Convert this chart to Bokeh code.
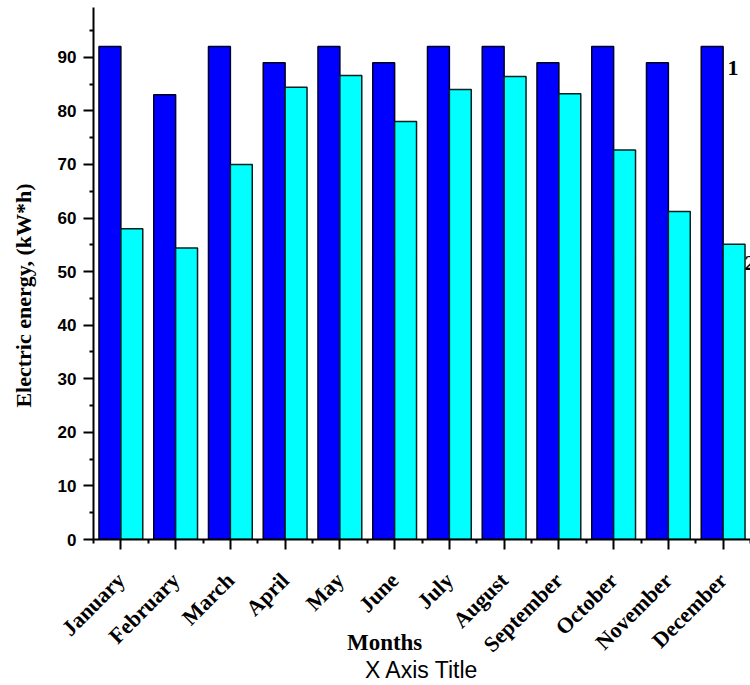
import math

from bokeh.embed import file_html
from bokeh.models import ColumnDataSource, FixedTicker, Label, LinearAxis, Range1d
from bokeh.plotting import figure
from bokeh.resources import INLINE
from bokeh.transform import dodge

# Monthly electric energy, kW*h
months = ["January", "February", "March", "April", "May", "June",
          "July", "August", "September", "October", "November", "December"]
series_1 = [92, 83, 92, 89, 92, 89, 92, 92, 89, 92, 89, 92]
series_2 = [58.0, 54.4, 70.0, 84.4, 86.6, 78.0, 84.0, 86.4, 83.2, 72.7, 61.2, 55.1]
y_major_ticks = [0, 10, 20, 30, 40, 50, 60, 70, 80, 90]
y_minor_ticks = [5, 15, 25, 35, 45, 55, 65, 75, 85, 95]

positions = list(range(1, len(months) + 1))
source = ColumnDataSource(dict(pos=positions, s1=series_1, s2=series_2))

SERIF = "Liberation Serif"
SANS = "Liberation Sans"
NBSP = "\u00a0"

p = figure(width=750, height=685, output_backend="svg", toolbar_location=None,
           x_range=Range1d(0.5, 12.5), y_range=Range1d(0, 99.3),
           min_border_left=93, min_border_right=0, min_border_top=7,
           min_border_bottom=145)
p.outline_line_color = None
p.xgrid.visible = False
p.ygrid.visible = False
p.background_fill_color = "white"
p.border_fill_color = "white"

p.vbar(x=dodge("pos", -0.2, range=p.x_range), top="s1", width=0.4, bottom=0,
       source=source, fill_color="#0000FF", line_color="#000022", line_width=1.5)
p.vbar(x=dodge("pos", 0.2, range=p.x_range), top="s2", width=0.4, bottom=0,
       source=source, fill_color="#00FFFF", line_color="#002222", line_width=1.5)

# x axis: month names at bar-pair centres, minor ticks between groups
xa = p.xaxis[0]
xa.ticker = FixedTicker(ticks=positions, minor_ticks=[i + 0.5 for i in range(0, 13)])
xa.major_label_overrides = {i: m for i, m in zip(positions, months)}
xa.major_label_orientation = math.pi / 4
xa.major_label_text_font = SERIF
xa.major_label_text_font_style = "bold"
xa.major_label_text_font_size = "22px"
xa.major_label_text_color = "black"
xa.major_label_standoff = 27

# y axis; the title is padded so it sits a little below the frame centre
ya = p.yaxis[0]
ya.ticker = FixedTicker(ticks=y_major_ticks, minor_ticks=y_minor_ticks)
ya.major_label_text_font = SANS
ya.major_label_text_font_style = "bold"
ya.major_label_text_font_size = "17px"
ya.major_label_text_color = "black"
ya.major_label_standoff = 7
ya.axis_label = "Electric energy, (kW*h)" + NBSP * 8
ya.axis_label_text_font = SERIF
ya.axis_label_text_font_style = "bold"
ya.axis_label_text_font_size = "22px"
ya.axis_label_text_color = "black"
ya.axis_label_standoff = 19

for ax in (xa, ya):
    ax.axis_line_width = 2
    ax.axis_line_color = "black"
    ax.major_tick_out = 10
    ax.major_tick_in = 0
    ax.minor_tick_out = 4
    ax.minor_tick_in = 0
    ax.major_tick_line_width = 2
    ax.minor_tick_line_width = 2
    ax.major_tick_line_color = "black"
    ax.minor_tick_line_color = "black"


def title_axis(label, font, style, size, standoff):
    """A bare axis (no line, ticks or tick labels) that only carries a title."""
    ax = LinearAxis(ticker=FixedTicker(ticks=[]))
    ax.axis_line_color = None
    ax.major_tick_line_color = None
    ax.minor_tick_line_color = None
    ax.major_tick_out = 0
    ax.minor_tick_out = 0
    ax.major_label_standoff = 0
    ax.major_label_text_font_size = "0px"
    ax.axis_label = label
    ax.axis_label_text_font = font
    ax.axis_label_text_font_style = style
    ax.axis_label_text_font_size = size
    ax.axis_label_text_color = "black"
    ax.axis_label_standoff = standoff
    return ax


p.add_layout(title_axis("Months" + NBSP * 13, SERIF, "bold", "23px", -39), "below")
p.add_layout(title_axis("X Axis Title", SANS, "normal", "23px", -12), "below")

# series markers next to the last bars
p.add_layout(Label(x=12.08, y=88.0, text="1", text_align="left",
                   text_baseline="alphabetic", text_font=SERIF, text_font_style="bold",
                   text_font_size="22px", text_color="black"))
p.add_layout(Label(x=12.39, y=51.6, text="2", text_align="left",
                   text_baseline="alphabetic", text_font=SERIF, text_font_style="bold",
                   text_font_size="22px", text_color="black"))

open("out.html", "w").write(file_html(p, INLINE))
